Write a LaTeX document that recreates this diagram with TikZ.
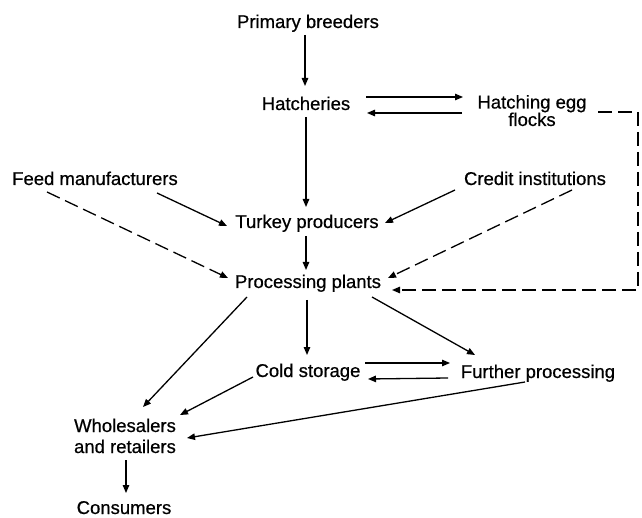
\documentclass[tikz,border=0pt]{standalone}
\usepackage{fontspec}
\setmainfont{Liberation Sans}[FakeBold=0.6]
\usetikzlibrary{arrows.meta}
\begin{document}
\begin{tikzpicture}[x=1pt,y=-1pt,
  lbl/.style={anchor=base,inner sep=0pt,font=\fontsize{18.5}{17.5}\selectfont},
  lbltwo/.style={anchor=base,inner sep=0pt,align=center,font=\fontsize{18.5}{21}\selectfont},
  conn/.style={line width=1.3pt,-{Triangle[length=8pt,width=6.5pt]}},
  dconn/.style={conn,dash pattern=on 14pt off 6pt}]
\useasboundingbox (0,0) rectangle (642,518);
\node[lbl] (pb) at (308,28) {Primary breeders};
\node[lbl] (hatch) at (306,110) {Hatcheries};
\node[lbl,align=center] (hef) at (532,126) {Hatching egg\\flocks};
\node[lbl] (feed) at (95,185) {Feed manufacturers};
\node[lbl] (credit) at (535,185) {Credit institutions};
\node[lbl] (turkey) at (307,228) {Turkey producers};
\node[lbl] (proc) at (308,288) {Processing plants};
\node[lbl] (cold) at (308,377) {Cold storage};
\node[lbl] (further) at (538,378) {Further processing};
\node[lbltwo] (whole) at (125,453) {Wholesalers\\and retailers};
\node[lbl] (cons) at (124,514) {Consumers};

\draw[conn] ([shift={(-3,7)}]pb.base) -- ([shift={(-1,-24)}]hatch.base);
\draw[conn] ([shift={(60,-13)}]hatch.base) -- ([shift={(-69,-29)}]hef.base);
\draw[conn] ([shift={(-70,-13)}]hef.base) -- ([shift={(61,3)}]hatch.base);
\draw[conn] ([shift={(0,7)}]hatch.base) -- ([shift={(-1,-21)}]turkey.base);
\draw[conn] ([shift={(62,8)}]feed.base) -- ([shift={(-80,-2)}]turkey.base);
\draw[dconn] ([shift={(-48,7)}]feed.base) -- ([shift={(-80,-10)}]proc.base);
\draw[conn] ([shift={(-80,5)}]credit.base) -- ([shift={(78,-5)}]turkey.base);
\draw[dconn] ([shift={(37,5)}]credit.base) -- ([shift={(80,-10)}]proc.base);
\draw[conn] ([shift={(-1,8)}]turkey.base) -- ([shift={(-2,-18)}]proc.base);
\draw[dconn] ([shift={(66,-14)}]hef.base) -- ++(40,0) |- ([shift={(84,2)}]proc.base);
\draw[conn] ([shift={(-1,12)}]proc.base) -- ([shift={(-1,-22)}]cold.base);
\draw[conn] ([shift={(-61,9)}]proc.base) -- ([shift={(18,-46)}]whole.base);
\draw[conn] ([shift={(64,9)}]proc.base) -- ([shift={(-63,-23)}]further.base);
\draw[conn] ([shift={(57,-14)}]cold.base) -- ([shift={(-88,-15)}]further.base);
\draw[conn] ([shift={(-90,0)}]further.base) -- ([shift={(60,2)}]cold.base);
\draw[conn] ([shift={(-55,0)}]cold.base) -- ([shift={(55,-38)}]whole.base);
\draw[conn] ([shift={(-13,4)}]further.base) -- ([shift={(62,-15)}]whole.base);
\draw[conn] ([shift={(1,7)}]whole.base) -- ([shift={(2,-21)}]cons.base);
\end{tikzpicture}
\end{document}
